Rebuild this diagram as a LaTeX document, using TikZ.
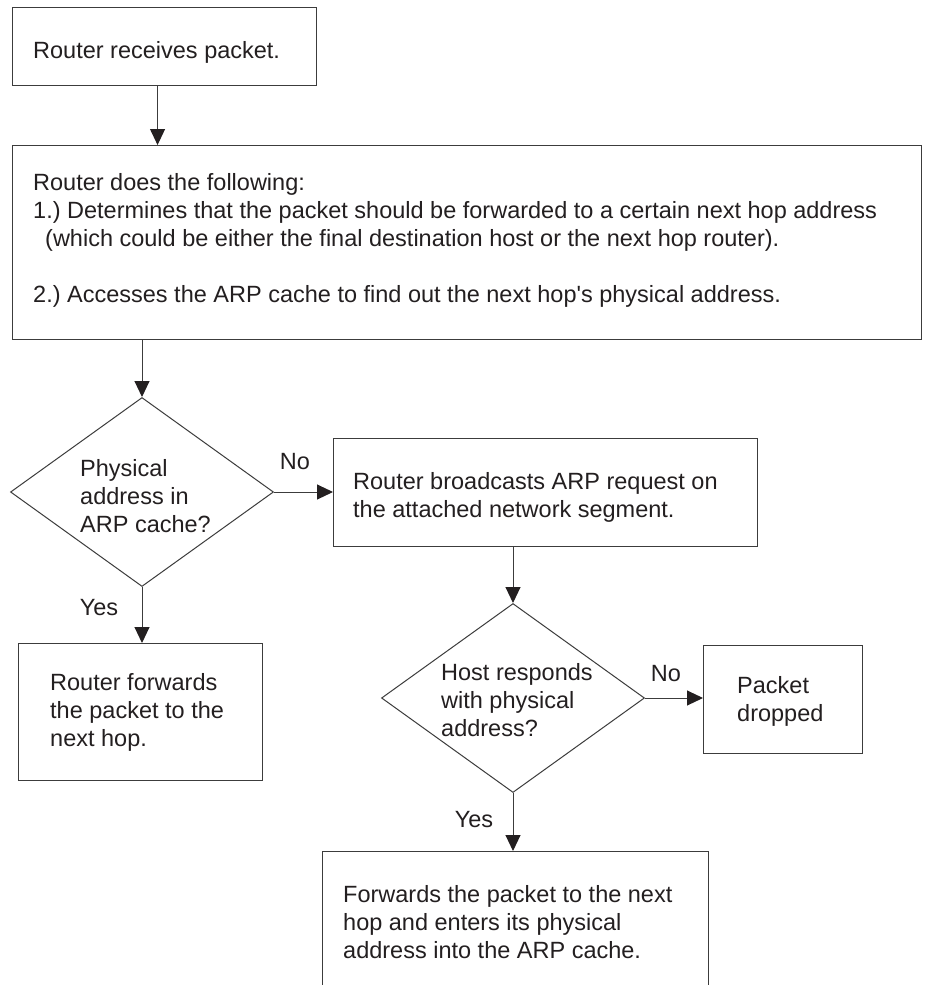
\documentclass[tikz,border=0pt]{standalone}
\usepackage{fontspec}
\setmainfont{Liberation Sans}
\usetikzlibrary{shapes.geometric,arrows.meta}
\definecolor{ink}{RGB}{35,31,32}
\definecolor{edge}{RGB}{60,60,60}
\begin{document}
\frenchspacing
\begin{tikzpicture}[x=1pt,y=-1pt,
  box/.style={draw=edge, line width=1.1pt, inner sep=0pt, anchor=north west},
  diam/.style={diamond, draw=edge, line width=1pt, inner sep=0pt, minimum width=263pt, minimum height=189pt},
  txt/.style={font=\fontsize{23.5}{28}\selectfont\frenchspacing, text=ink, align=left, inner sep=0pt, anchor=west},
  lbl/.style={font=\fontsize{23.5}{28}\selectfont, text=ink, inner sep=0pt},
  arr/.style={draw=edge, line width=1pt, -{Triangle[length=16pt,width=15pt,fill=ink,color=ink]}}]
\useasboundingbox (0,0) rectangle (924,985);
\clip (0,0) rectangle (924,985);
\fill[white] (0,0) rectangle (924,985);
% boxes
\node[box, minimum width=304pt, minimum height=78pt] (A) at (12,7) {};
\node[box, minimum width=909pt, minimum height=194pt] (B) at (12,145) {};
\node[box, minimum width=424pt, minimum height=108pt] (C) at (333,438) {};
\node[box, minimum width=159pt, minimum height=108pt] (Drop) at (703,645) {};
\node[box, minimum width=244pt, minimum height=137pt] (F) at (18,643) {};
\node[box, minimum width=386pt, minimum height=142pt] (E) at (322,851) {};
% diamonds
\node[diam] (D1) at (142,492) {};
\node[diam] (D2) at (513,698) {};
% texts
\node[txt] (At) at (33,52) {Router receives packet.};
\node[txt] (Bt) at (33,240) {Router does the following:\\
1.) Determines that the packet should be forwarded to a certain next hop address\\
\hspace*{12pt}(which could be either the final destination host or the next hop router).\\[28pt]
2.) Accesses the ARP cache to find out the next hop\textquotesingle s physical address.};
\node[txt] (Ct) at (353,497) {Router broadcasts ARP request on\\the attached network segment.};
\node[txt] (Dropt) at (737,701) {Packet\\dropped};
\node[txt] (Ft) at (50,712) {Router forwards\\the packet to the\\next hop.};
\node[txt] (Et) at (343,922) {Forwards the packet to the next\\hop and enters its physical\\address into the ARP cache.};
\node[txt] (D1t) at (80,496) {Physical\\address in\\ARP cache?};
\node[txt] (D2t) at (441,700) {Host responds\\with physical\\address?};
% labels
\node[lbl] (No1) at (295,462) {No};
\node[lbl] (Yes1) at (99,608) {Yes};
\node[lbl] (No2) at (666,674) {No};
\node[lbl] (Yes2) at (474,820) {Yes};
% connectors
\draw[arr] ([xshift=-7pt]A.south) -- ([xshift=-7pt]A.south |- B.north);
\draw[arr] (D1.north |- B.south) -- (D1.north);
\draw[arr] (D1.east) -- (D1.east -| C.west);
\draw[arr] (D1.south) -- (D1.south |- F.north);
\draw[arr] (D2.north |- C.south) -- (D2.north);
\draw[arr] (D2.east) -- (D2.east -| Drop.west);
\draw[arr] (D2.south) -- (D2.south |- E.north);
\end{tikzpicture}
\end{document}
